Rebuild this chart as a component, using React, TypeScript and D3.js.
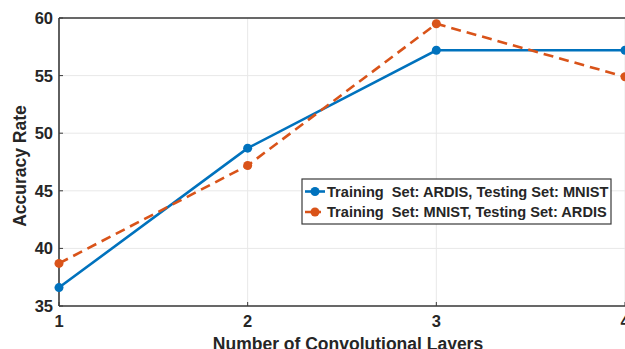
import { useEffect, useRef } from "react";
import * as d3 from "d3";

const layers = [1, 2, 3, 4];
const ardisToMnist = [36.6, 48.7, 57.2, 57.2];
const mnistToArdis = [38.7, 47.2, 59.5, 54.9];
const yTicks = [35, 40, 45, 50, 55, 60];
const seriesNames = [
  "Training  Set: ARDIS, Testing Set: MNIST",
  "Training  Set: MNIST, Testing Set: ARDIS",
];

const blue = "#0072BD";
const orange = "#D95319";

function App() {
  const svgRef = useRef<SVGSVGElement>(null);
  const width = 625;
  const height = 349;

  useEffect(() => {
    const svg = d3.select(svgRef.current);
    svg.selectAll("*").remove();

    const left = 59, top = 18, bottom = 306, right = 625;
    const x = d3.scaleLinear().domain([1, 4]).range([left, right]);
    const y = d3.scaleLinear().domain([35, 60]).range([bottom, top]);

    // grid
    const grid = svg.append("g");
    grid.selectAll("line.v").data(layers).join("line")
      .attr("x1", (d) => x(d)).attr("x2", (d) => x(d))
      .attr("y1", top).attr("y2", bottom)
      .attr("stroke", "#e8e8e8").attr("stroke-width", 1);
    grid.selectAll("line.h").data(yTicks).join("line")
      .attr("x1", left).attr("x2", right + 10)
      .attr("y1", (d) => y(d)).attr("y2", (d) => y(d))
      .attr("stroke", "#e8e8e8").attr("stroke-width", 1);

    // box
    const axisColor = "#3a3a3a";
    svg.append("line").attr("x1", left).attr("x2", right + 10)
      .attr("y1", top).attr("y2", top).attr("stroke", axisColor).attr("stroke-width", 1.6);
    svg.append("line").attr("x1", left).attr("x2", right + 10)
      .attr("y1", bottom).attr("y2", bottom).attr("stroke", axisColor).attr("stroke-width", 1.6);
    svg.append("line").attr("x1", left).attr("x2", left)
      .attr("y1", top).attr("y2", bottom).attr("stroke", axisColor).attr("stroke-width", 1.6);

    // ticks
    svg.append("g").selectAll("line").data(yTicks).join("line")
      .attr("x1", left).attr("x2", left + 4)
      .attr("y1", (d) => y(d)).attr("y2", (d) => y(d))
      .attr("stroke", axisColor);
    svg.append("g").selectAll("line").data(layers).join("line")
      .attr("x1", (d) => x(d)).attr("x2", (d) => x(d))
      .attr("y1", bottom).attr("y2", bottom - 4)
      .attr("stroke", axisColor);

    const font = "'Liberation Sans', Arial, sans-serif";
    svg.append("g").selectAll("text").data(yTicks).join("text")
      .attr("x", left - 6).attr("y", (d) => y(d) + 6)
      .attr("text-anchor", "end")
      .attr("font-family", font).attr("font-weight", "bold").attr("font-size", 16.5)
      .attr("fill", "#262626")
      .text((d) => d);
    svg.append("g").selectAll("text").data(layers).join("text")
      .attr("x", (d) => x(d)).attr("y", bottom + 21)
      .attr("text-anchor", "middle")
      .attr("font-family", font).attr("font-weight", "bold").attr("font-size", 16.5)
      .attr("fill", "#262626")
      .text((d) => d);

    svg.append("text")
      .attr("x", 348).attr("y", 350)
      .attr("text-anchor", "middle")
      .attr("font-family", font).attr("font-weight", "bold").attr("font-size", 17.5)
      .attr("fill", "#262626")
      .text("Number of Convolutional Layers");
    svg.append("text")
      .attr("transform", `translate(26, ${(top + bottom) / 2 + 4}) rotate(-90)`)
      .attr("text-anchor", "middle")
      .attr("font-family", font).attr("font-weight", "bold").attr("font-size", 17.5)
      .attr("fill", "#262626")
      .text("Accuracy Rate");

    // lines
    const line = d3.line<number>().x((_, i) => x(layers[i])).y((d) => y(d));
    const series = [
      { vals: ardisToMnist, color: blue, dash: null },
      { vals: mnistToArdis, color: orange, dash: "10,6" },
    ];
    series.forEach((s) => {
      svg.append("path")
        .attr("d", line(s.vals))
        .attr("fill", "none")
        .attr("stroke", s.color)
        .attr("stroke-width", 2.6)
        .attr("stroke-dasharray", s.dash);
      svg.append("g").selectAll("circle").data(s.vals).join("circle")
        .attr("cx", (_, i) => x(layers[i])).attr("cy", (d) => y(d))
        .attr("r", 4.5).attr("fill", s.color);
    });

    // legend
    const lg = svg.append("g");
    lg.append("rect").attr("x", 302).attr("y", 179).attr("width", 309).attr("height", 45)
      .attr("fill", "white").attr("stroke", axisColor).attr("stroke-width", 1.2);
    seriesNames.forEach((name, i) => {
      const cy = 191.5 + i * 20.5;
      const s = series[i];
      lg.append("line").attr("x1", 305).attr("x2", 325).attr("y1", cy).attr("y2", cy)
        .attr("stroke", s.color).attr("stroke-width", 2.6).attr("stroke-dasharray", s.dash ? "6,4" : null);
      lg.append("circle").attr("cx", 315).attr("cy", cy).attr("r", 4.5).attr("fill", s.color);
      lg.append("text").attr("x", 327).attr("y", cy + 5)
        .attr("font-family", font).attr("font-weight", "bold").attr("font-size", 14.6)
        .attr("fill", "#262626")
        .style("white-space", "pre")
        .text(name);
    });
  }, []);

  return (
    <svg
      ref={svgRef}
      width={width}
      height={height}
      viewBox={`0 0 ${width} ${height}`}
      style={{ position: "absolute", left: 0, top: 0, background: "white" }}
    />
  );
}

export default App;
